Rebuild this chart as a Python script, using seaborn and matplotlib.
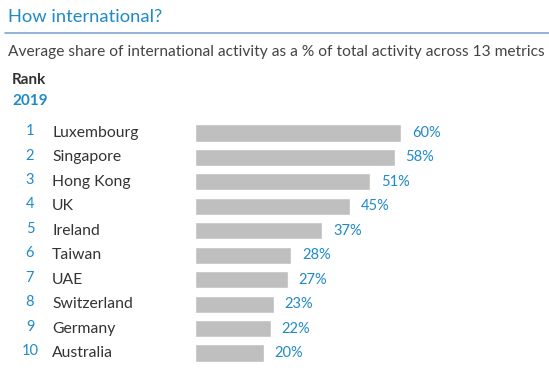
import matplotlib
matplotlib.use('Agg')
import matplotlib.pyplot as plt
import matplotlib.transforms as mtransforms
import seaborn as sns
import pandas as pd

# data
ranks = [1, 2, 3, 4, 5, 6, 7, 8, 9, 10]
countries = ['Luxembourg', 'Singapore', 'Hong Kong', 'UK', 'Ireland',
             'Taiwan', 'UAE', 'Switzerland', 'Germany', 'Australia']
shares = [60, 58, 51, 45, 37, 28, 27, 23, 22, 20]

blue = '#1f8ac8'
dark = '#333333'

sns.set_theme(style='white')
plt.rcParams['font.family'] = ['Lato', 'DejaVu Sans']

df = pd.DataFrame({'country': countries, 'share': shares, 'rank': ranks})

fig = plt.figure(figsize=(5.49, 3.73), dpi=100)
ax = fig.add_axes([195 / 549, 1 - 365.2 / 373, 344 / 549, (365.2 - 120.8) / 373])
sns.barplot(data=df, x='share', y='country', color='#bfbfbf', saturation=1,
            width=0.7, ax=ax, orient='h')
ax.set_xlim(0, 100)
ax.set_xlabel('')
ax.set_ylabel('')
ax.set_xticks([])
ax.set_yticks([])
sns.despine(ax=ax, left=True, bottom=True)

# value labels
for i, v in enumerate(df['share']):
    ax.text(v + 3.1, i, f'{v}%', color=blue, fontsize=10.5, va='center', ha='left')

# rank numbers and country names on the left
tr = mtransforms.blended_transform_factory(fig.transFigure, ax.transData)
for i, (r, c) in enumerate(zip(df['rank'], df['country'])):
    ax.text(30 / 549, i - 0.08, str(r), color=blue, fontsize=10.5, va='center', ha='center', transform=tr)
    ax.text(52 / 549, i, c, color=dark, fontsize=11.3, va='center', ha='left', transform=tr)

# header
fig.text(8 / 549, 1 - 17 / 373, 'How international?', color=blue, fontsize=13.2, va='center', ha='left')
fig.add_artist(plt.Line2D([5 / 549, 1], [1 - 33 / 373] * 2, color='#7fa6d4', lw=1.2))
fig.text(8 / 549, 1 - 52 / 373, 'Average share of international activity as a % of total activity across 13 metrics',
         color='#444444', fontsize=11.2, va='center', ha='left')
fig.text(12 / 549, 1 - 80 / 373, 'Rank', color=dark, fontsize=11, fontweight='bold', va='center', ha='left')
fig.text(12 / 549, 1 - 101 / 373, '2019', color=blue, fontsize=11, fontweight='bold', va='center', ha='left')

fig.savefig('out.png', dpi=100)
